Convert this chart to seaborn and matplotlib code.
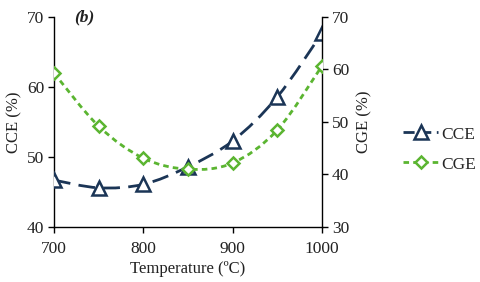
import numpy as np
import pandas as pd
import matplotlib
matplotlib.use("Agg")
import matplotlib.pyplot as plt
from matplotlib.path import Path
from matplotlib.patches import PathPatch
from matplotlib.lines import Line2D
import seaborn as sns

temperature = [700, 750, 800, 850, 900, 950, 1000]
cce = [46.7, 45.6, 46.1, 48.6, 52.3, 58.6, 67.7]
cge = [59.3, 49.2, 43.1, 41.0, 42.2, 48.5, 60.7]

sns.set_theme(style="white")
plt.rcParams['font.family'] = ['Liberation Serif', 'DejaVu Serif']

navy = "#1b3556"
green = "#5bb531"
txt = "#222222"

fig = plt.figure(figsize=(4.8, 2.82), dpi=100)
ax = fig.add_axes([0.1125, 0.195, 0.5585, 0.745])
ax2 = ax.twinx()

def smooth_path(xs, ys):
    xs = np.asarray(xs, float); ys = np.asarray(ys, float)
    verts = [(xs[0], ys[0])]
    codes = [Path.MOVETO]
    n = len(xs)
    for i in range(n - 1):
        x0, y0 = (xs[i-1], ys[i-1]) if i > 0 else (xs[i], ys[i])
        x1, y1 = xs[i], ys[i]
        x2, y2 = xs[i+1], ys[i+1]
        x3, y3 = (xs[i+2], ys[i+2]) if i + 2 < n else (xs[i+1], ys[i+1])
        c1 = (x1 + (x2 - x0) / 6, y1 + (y2 - y0) / 6)
        c2 = (x2 - (x3 - x1) / 6, y2 - (y3 - y1) / 6)
        verts += [c1, c2, (x2, y2)]
        codes += [Path.CURVE4] * 3
    return Path(verts, codes)

df = pd.DataFrame({"T": temperature, "CCE": cce, "CGE": cge})

ax.add_patch(PathPatch(smooth_path(temperature, cce), fill=False, edgecolor=navy,
                       lw=2.0, linestyle=(0, (6, 3)), zorder=3))
ax2.add_patch(PathPatch(smooth_path(temperature, cge), fill=False, edgecolor=green,
                        lw=2.0, linestyle=(0, (2, 1.5)), zorder=3))

sns.lineplot(data=df, x="T", y="CCE", ax=ax, linestyle="", marker="^", markersize=10,
             markerfacecolor="white", markeredgecolor=navy, markeredgewidth=1.8,
             color=navy, zorder=4)
sns.lineplot(data=df, x="T", y="CGE", ax=ax2, linestyle="", marker="D", markersize=6.5,
             markerfacecolor="white", markeredgecolor=green, markeredgewidth=1.8,
             color=green, zorder=4)

ax.set_xlim(700, 1000)
ax.set_ylim(40, 70)
ax2.set_ylim(30, 70)
ax.set_xticks([700, 800, 900, 1000])
ax.set_yticks([40, 50, 60, 70])
ax2.set_yticks([30, 40, 50, 60, 70])

for a in (ax, ax2):
    for s in a.spines.values():
        s.set_visible(False)
ax.spines['left'].set_visible(True)
ax.spines['bottom'].set_visible(True)
ax2.spines['right'].set_visible(True)
for s in (ax.spines['left'], ax.spines['bottom'], ax2.spines['right']):
    s.set_color("black"); s.set_linewidth(1.0)

ax.tick_params(axis='both', which='major', direction='out', length=4, width=1,
               color='black', labelsize=12.5, labelcolor=txt, left=True, bottom=True, pad=3)
ax2.tick_params(axis='y', direction='out', length=4, width=1, color='black',
                labelsize=12.5, labelcolor=txt, right=True, pad=3)
ax.tick_params(axis='x', pad=6)

ax.set_xlabel("Temperature (ºC)", fontsize=12, color=txt, labelpad=3)
ax.set_ylabel("CCE (%)", fontsize=12, color=txt, labelpad=3)
ax2.set_ylabel("CGE (%)", fontsize=12, color=txt, labelpad=5)
ax.grid(False); ax2.grid(False)

ax.text(0.075, 1.0, "(b)", transform=ax.transAxes, fontsize=12.5, fontweight='bold',
        fontstyle='italic', ha='left', va='center', color=txt)

handles = [
    Line2D([], [], color=navy, lw=2.0, linestyle=(0, (4, 2)), marker="^", markersize=10,
           markerfacecolor="white", markeredgecolor=navy, markeredgewidth=1.8),
    Line2D([], [], color=green, lw=2.0, linestyle=(0, (2, 1.5)), marker="D", markersize=6.5,
           markerfacecolor="white", markeredgecolor=green, markeredgewidth=1.8),
]
fig.legend(handles, ["CCE", "CGE"], loc="center left", bbox_to_anchor=(0.826, 0.47),
           frameon=False, fontsize=12.5, handlelength=2.0, handletextpad=0.2,
           labelspacing=0.8, borderaxespad=0)

fig.savefig("out.png", dpi=100)
